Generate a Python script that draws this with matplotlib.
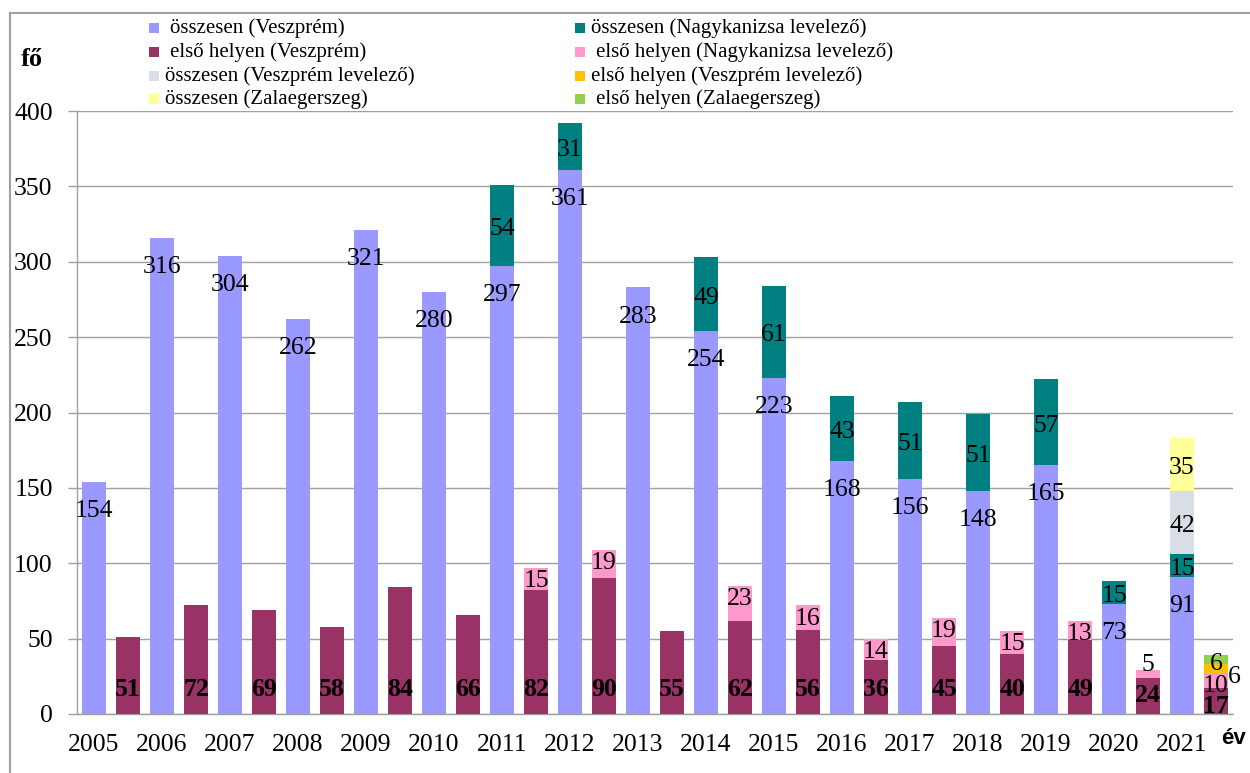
import matplotlib.pyplot as plt
import numpy as np
from matplotlib.patches import Rectangle
from matplotlib.lines import Line2D

evek = ["2005", "2006", "2007", "2008", "2009", "2010", "2011", "2012", "2013",
        "2014", "2015", "2016", "2017", "2018", "2019", "2020", "2021"]

# összesen (first bar of each year)
ossz_veszprem = [154, 316, 304, 262, 321, 280, 297, 361, 283, 254, 223, 168, 156, 148, 165, 73, 91]
ossz_nagykanizsa = [0, 0, 0, 0, 0, 0, 54, 31, 0, 49, 61, 43, 51, 51, 57, 15, 15]
ossz_vp_levelezo = [0] * 16 + [42]
ossz_zala = [0] * 16 + [35]

# első helyen (second bar of each year)
elso_veszprem = [51, 72, 69, 58, 84, 66, 82, 90, 55, 62, 56, 36, 45, 40, 49, 24, 17]
elso_nagykanizsa = [0, 0, 0, 0, 0, 0, 15, 19, 0, 23, 16, 14, 19, 15, 13, 5, 10]
elso_vp_levelezo = [0] * 16 + [6]
elso_zala = [0] * 16 + [6]

szinek = {
    "ossz_vp": "#9999FF", "elso_vp": "#993366",
    "ossz_nk": "#008080", "elso_nk": "#FF99CC",
    "ossz_vpl": "#D9DDE6", "elso_vpl": "#FFC000",
    "ossz_za": "#FFFF99", "elso_za": "#92D050",
}

serif = "Liberation Serif"
plt.rcParams["font.family"] = [serif, "DejaVu Serif"]

W, H = 1250, 773
fig = plt.figure(figsize=(W / 100, H / 100), dpi=100)
ax = fig.add_axes([77 / W, (H - 714) / H, (1233 - 77) / W, (714 - 111) / H])

n = len(evek)
xa = np.arange(n) * 2
xb = xa + 1
bw = 0.72


def stack(x, series, colors):
    bottom = np.zeros(n)
    out = []
    for vals, c in zip(series, colors):
        vals = np.array(vals, dtype=float)
        b = ax.bar(x, vals, bw, bottom=bottom, color=c, zorder=3, linewidth=0)
        out.append(b)
        bottom = bottom + vals
    return out


ba = stack(xa, [ossz_veszprem, ossz_nagykanizsa, ossz_vp_levelezo, ossz_zala],
           [szinek["ossz_vp"], szinek["ossz_nk"], szinek["ossz_vpl"], szinek["ossz_za"]])
bb = stack(xb, [elso_veszprem, elso_nagykanizsa, elso_vp_levelezo, elso_zala],
           [szinek["elso_vp"], szinek["elso_nk"], szinek["elso_vpl"], szinek["elso_za"]])

fs = 18.5


def lab(rect, val, where, dy=0, **kw):
    cx = rect.get_x() + rect.get_width() / 2
    y0 = rect.get_y()
    h = rect.get_height()
    if where == "top":
        y = y0 + h
    elif where == "mid":
        y = y0 + h / 2
    else:
        y = where
    ax.annotate(str(int(val)), (cx, y), xytext=(0, dy), textcoords="offset points",
                ha=kw.pop("ha", "center"), va="center", fontsize=fs, zorder=5, **kw)


for rect, v in zip(ba[0], ossz_veszprem):
    lab(rect, v, "top", dy=-21)
for cont, vals in zip(ba[1:], [ossz_nagykanizsa, ossz_vp_levelezo, ossz_zala]):
    for rect, v in zip(cont, vals):
        if v > 0:
            lab(rect, v, "mid", dy=-2.5)

for rect, v in zip(bb[0], elso_veszprem):
    lab(rect, v, min(16, v - 12), fontweight="bold")
for rect, v in zip(bb[1], elso_nagykanizsa):
    if v > 0:
        lab(rect, v, "top", dy=(4 if v < 6 else -9.5))
for rect, v in zip(bb[2], elso_vp_levelezo):
    if v > 0:
        ax.annotate(str(v), (rect.get_x() + rect.get_width(), rect.get_y() + rect.get_height() / 2),
                    xytext=(0, -6), textcoords="offset points", ha="left", va="center",
                    fontsize=fs, zorder=5)
for rect, v in zip(bb[3], elso_zala):
    if v > 0:
        lab(rect, v, "mid", dy=-3)

gray = "#A0A0A0"
ax.set_xlim(-0.5, 2 * n - 0.5)
ax.set_ylim(0, 400)
ax.set_yticks(np.arange(0, 401, 50))
ax.set_xticks(xa)
ax.set_xticklabels(evek)
ax.tick_params(axis="x", length=0, pad=14.5, labelsize=fs)
ax.tick_params(axis="y", length=6.5, color=gray, width=1, pad=11, labelsize=fs)
ax.yaxis.grid(True, color=gray, linewidth=1, zorder=0)
ax.set_axisbelow(True)
for s in ["top", "right"]:
    ax.spines[s].set_visible(False)
for s in ["left", "bottom"]:
    ax.spines[s].set_color(gray)
    ax.spines[s].set_linewidth(1)

# axis titles
fig.text(32 / W, 1 - 60 / H, "fő", fontsize=19, fontweight="bold", ha="center", va="center")
fig.text(1234 / W, 1 - 738 / H, "év", fontsize=16, fontweight="bold", ha="center", va="center",
         family="Liberation Sans")

# legend
leg_fs = 15
rows = [28, 52, 76, 99]
col1 = [("összesen (Veszprém)", szinek["ossz_vp"], 170),
        ("első helyen (Veszprém)", szinek["elso_vp"], 170),
        ("összesen (Veszprém levelező)", szinek["ossz_vpl"], 165),
        ("összesen (Zalaegerszeg)", szinek["ossz_za"], 165)]
col2 = [("összesen (Nagykanizsa levelező)", szinek["ossz_nk"], 591),
        ("első helyen (Nagykanizsa levelező)", szinek["elso_nk"], 596),
        ("első helyen (Veszprém levelező)", szinek["elso_vpl"], 591),
        ("első helyen (Zalaegerszeg)", szinek["elso_za"], 596)]
for col, sx in [(col1, 149), (col2, 575)]:
    for (txt, c, tx), ry in zip(col, rows):
        fig.add_artist(Rectangle((sx / W, 1 - (ry + 5) / H), 10 / W, 10 / H,
                                 transform=fig.transFigure, color=c, lw=0))
        fig.text(tx / W, 1 - ry / H, txt, fontsize=leg_fs, ha="left", va="center")

# chart border
fig.add_artist(Line2D([10 / W, 10 / W], [0, 1 - 13 / H], transform=fig.transFigure, color=gray, lw=1.5))
fig.add_artist(Line2D([10 / W, 1], [1 - 13 / H, 1 - 13 / H], transform=fig.transFigure, color=gray, lw=1.5))

fig.savefig("out.png", dpi=100)
